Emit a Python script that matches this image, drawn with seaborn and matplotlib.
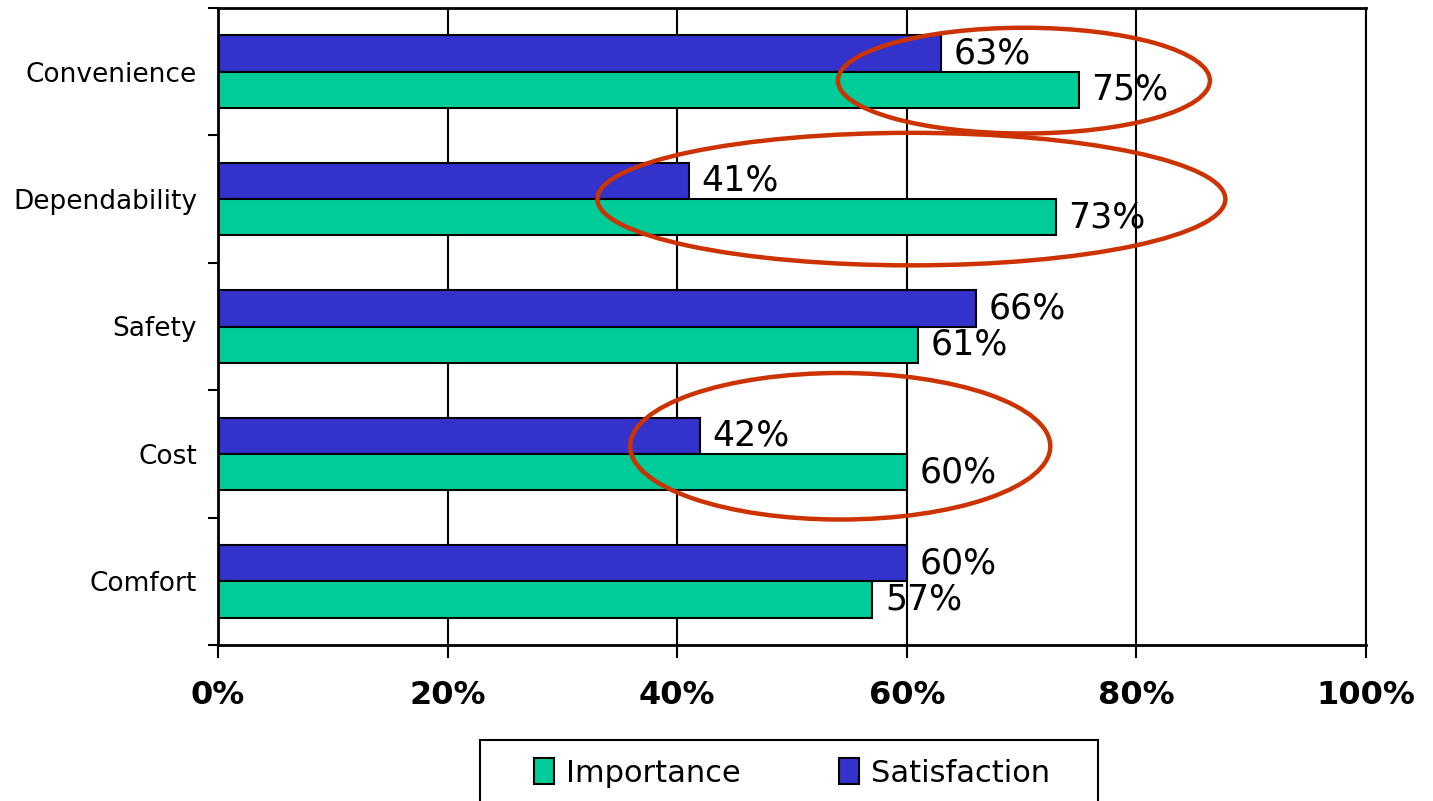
import matplotlib
matplotlib.use("Agg")
import matplotlib.pyplot as plt
import seaborn as sns
import pandas as pd
from matplotlib.patches import Ellipse, Rectangle
from matplotlib.ticker import FixedLocator, PercentFormatter


categories = ["Convenience", "Dependability", "Safety", "Cost", "Comfort"]
importance = [75, 73, 61, 60, 57]
satisfaction = [63, 41, 66, 42, 60]
x_ticks = [0, 20, 40, 60, 80, 100]

# highlighted groups: (category, x centre, y offset, width, height)
highlights = [
    ("Convenience", 70.2, 0.07, 32.4, 0.83),
    ("Dependability", 60.4, 0.0, 54.7, 1.04),
    ("Cost", 54.2, -0.06, 36.6, 1.15),
]

green = "#00CC99"
blue = "#3333CC"
red = "#CC3300"

sns.set_style("ticks")
plt.rcParams["font.family"] = ["DejaVu Sans"]
plt.rcParams["text.color"] = "black"
plt.rcParams["xtick.color"] = "black"
plt.rcParams["ytick.color"] = "black"

df = pd.DataFrame({
    "category": categories * 2,
    "value": satisfaction + importance,
    "measure": ["Satisfaction"] * len(categories) + ["Importance"] * len(categories),
})

fig = plt.figure(figsize=(14.33, 8.01), dpi=100)
ax = fig.add_axes([218 / 1433, 1 - 645 / 801, (1366 - 218) / 1433, (645 - 8) / 801])

sns.barplot(data=df, x="value", y="category", hue="measure",
            hue_order=["Satisfaction", "Importance"], order=categories,
            palette={"Satisfaction": blue, "Importance": green}, saturation=1,
            width=0.57, edgecolor="black", linewidth=1.5, orient="h",
            legend=False, ax=ax, zorder=2)

for cont in ax.containers:
    vals = [b.get_width() for b in cont]
    ax.bar_label(cont, labels=[f"{v:.0f}%" for v in vals], padding=9,
                 fontsize=25, color="black", zorder=5)

ax.set_xlim(0, 100)
ax.set_ylim(len(categories) - 0.5, -0.5)
ax.set_xticks(x_ticks)
ax.xaxis.set_major_formatter(PercentFormatter(decimals=0))
ax.tick_params(axis="x", length=9, width=1.5, pad=16, labelsize=23)
for lab in ax.get_xticklabels():
    lab.set_fontweight("bold")
ax.tick_params(axis="y", which="major", length=0, pad=15, labelsize=19)
ax.yaxis.set_minor_locator(FixedLocator([i - 0.5 for i in range(len(categories) + 1)]))
ax.tick_params(axis="y", which="minor", length=7, width=1.5, direction="out")
ax.set_xlabel("")
ax.set_ylabel("")

ax.grid(axis="x", color="black", linewidth=1.5)
ax.set_axisbelow(True)
for s in ax.spines.values():
    s.set_visible(True)
    s.set_linewidth(2)
    s.set_color("black")
ax.spines["right"].set_linewidth(1.5)

for cat, xc, dy, w, h in highlights:
    yc = categories.index(cat) + dy
    ax.add_patch(Ellipse((xc, yc), w, h, fill=False, edgecolor=red,
                         linewidth=3.2, zorder=6, clip_on=False))

# legend, box cut off by bottom edge
fig.patches.append(Rectangle((480 / 1433, -0.05), (1098 - 480) / 1433, 0.05 + 61 / 801,
                             transform=fig.transFigure, fill=False,
                             edgecolor="black", linewidth=1.5))
handles = [Rectangle((0, 0), 1, 1, facecolor=green, edgecolor="black", linewidth=1.5),
           Rectangle((0, 0), 1, 1, facecolor=blue, edgecolor="black", linewidth=1.5)]
fig.legend(handles, ["Importance", "Satisfaction"], loc="center",
           bbox_to_anchor=(792 / 1433, 1 - 773 / 801), ncol=2, frameon=False,
           fontsize=22, handlelength=0.65, handleheight=0.9,
           handletextpad=0.4, columnspacing=3.2)

fig.savefig("out.png", dpi=100)
